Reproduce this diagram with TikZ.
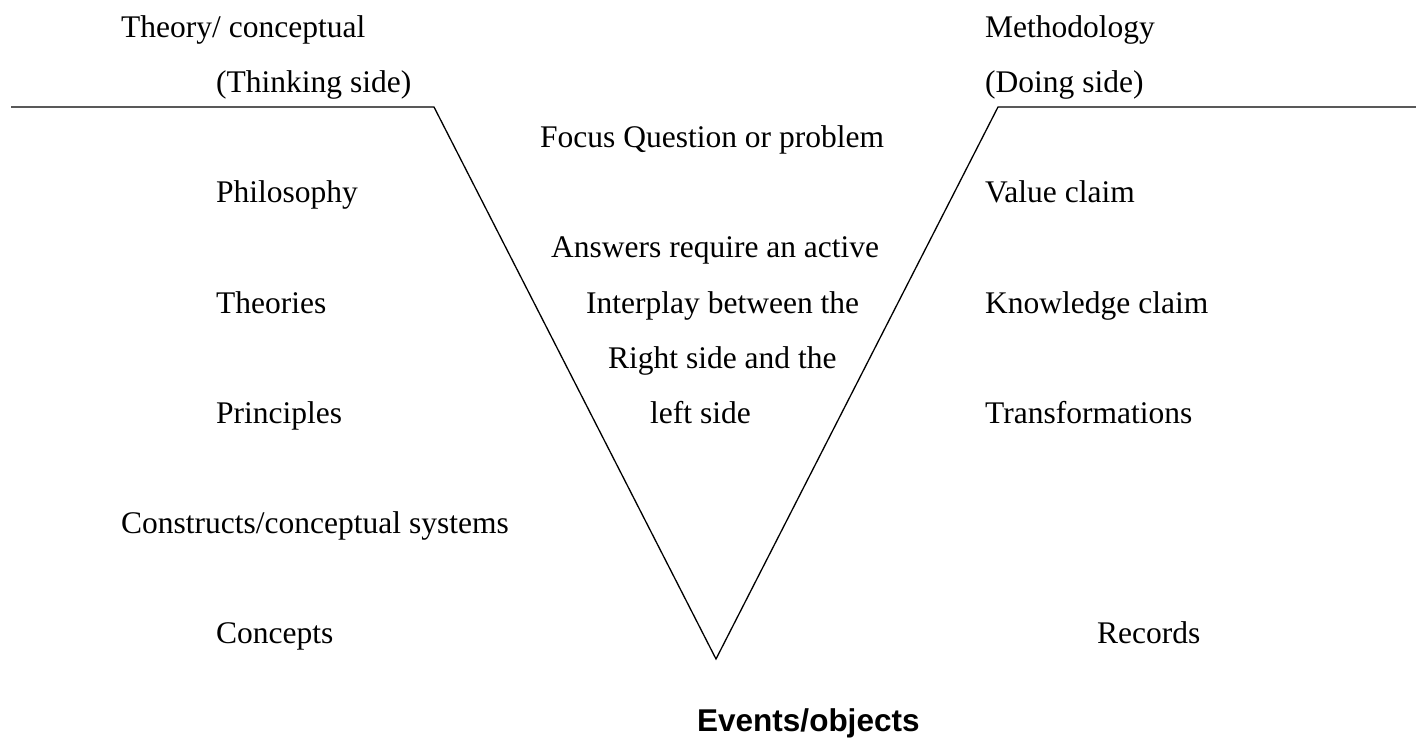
\documentclass[tikz,border=0pt]{standalone}
\usepackage{fontspec}
\setmainfont{Liberation Serif}
\newfontfamily\arialfont{Liberation Sans}
\begin{document}
\begin{tikzpicture}[x=1pt,y=-1pt,
  lbl/.style={anchor=base west,inner sep=0pt,font=\fontsize{31.5}{36}\selectfont},
  boldlbl/.style={anchor=base west,inner sep=0pt,font=\arialfont\bfseries\fontsize{31.5}{36}\selectfont},
  vline/.style={line width=1.3pt,black}]
\useasboundingbox (0,0) rectangle (1416,738);
% V outline
\coordinate (lstart) at (11,107);
\coordinate (lcorner) at (434,107);
\coordinate (apex) at (716,659);
\coordinate (rcorner) at (998,107);
\coordinate (rend) at (1416,107);
\draw[vline,line join=miter] (lstart) -- (lcorner) -- (apex) -- (rcorner) -- (rend);
% left side
\node[lbl] (theory) at (121,38) {Theory/ conceptual};
\node[lbl] (thinking) at (216,93) {(Thinking side)};
\node[lbl] (philo) at (216,203) {Philosophy};
\node[lbl] (theories) at (216,313) {Theories};
\node[lbl] (princ) at (216,423) {Principles};
\node[lbl] (constr) at (121,533) {Constructs/conceptual systems};
\node[lbl] (concepts) at (216,643) {Concepts};
% middle
\node[lbl] (focus) at (540,148) {Focus Question or problem};
\node[lbl] (ans) at (551,258) {Answers require an active};
\node[lbl] (inter) at (586,313) {Interplay between the};
\node[lbl] (right) at (608,368) {Right side and the};
\node[lbl] (left) at (650,423) {left side};
% right side
\node[lbl] (method) at (985,38) {Methodology};
\node[lbl] (doing) at (985,93) {(Doing side)};
\node[lbl] (value) at (985,203) {Value claim};
\node[lbl] (know) at (985,313) {Knowledge claim};
\node[lbl] (trans) at (985,423) {Transformations};
\node[lbl] (records) at (1097,643) {Records};
% bottom
\node[boldlbl] (events) at (697,731) {Events/objects};
\end{tikzpicture}
\end{document}
